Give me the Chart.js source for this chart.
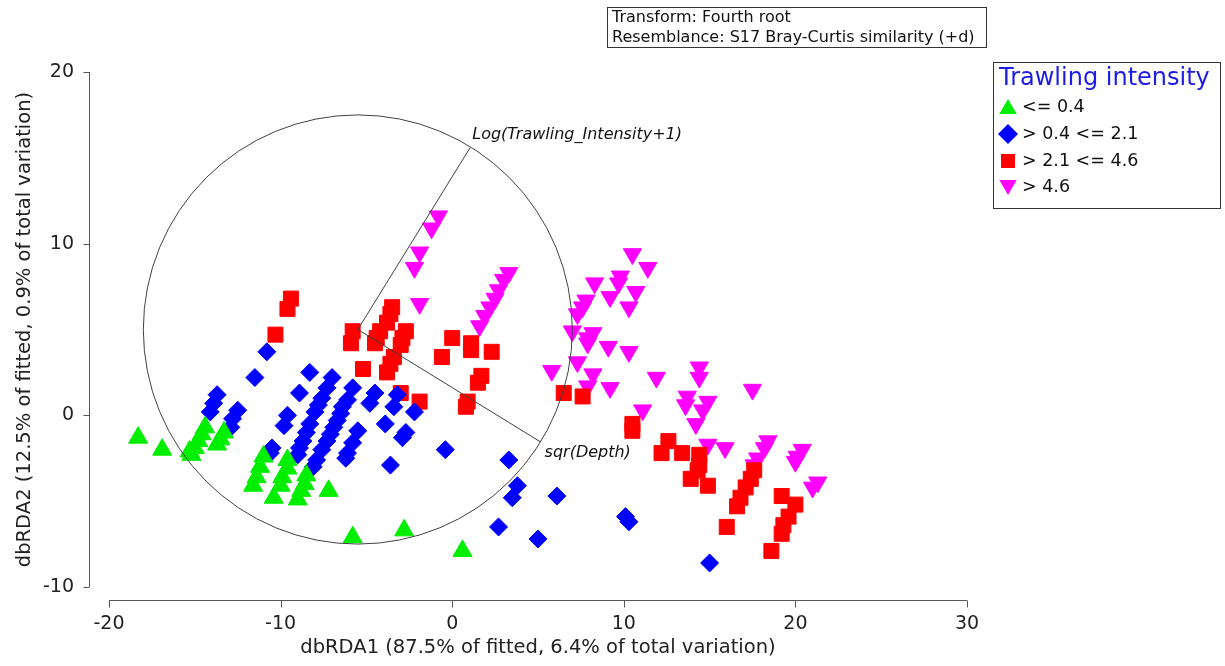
<!DOCTYPE html>
<html>
<head>
<meta charset="utf-8">
<title>dbRDA</title>
<script src="https://cdn.jsdelivr.net/npm/chart.js@4.4.1/dist/chart.umd.min.js"></script>
<style>
  html, body { margin: 0; padding: 0; background: #fff; }
  #wrap { width: 1225px; height: 666px; }
</style>
</head>
<body>
<div id="wrap"><canvas id="rdaChart" width="1225" height="666"></canvas></div>
<script>
// Trawling intensity groups
const groupNames = ['<= 0.4', '> 0.4 <= 2.1', '> 2.1 <= 4.6', '> 4.6'];

// [dbRDA1, dbRDA2]
const lowPts = [
    [-18.3, -1.3], [-16.9, -2.0], [-15.3, -2.1],
    [-14.4, -0.7], [-14.6, -1.1], [-14.8, -1.5], [-15.0, -1.9], [-15.2, -2.3],
    [-13.3, -1.0], [-13.5, -1.4], [-13.7, -1.7],
    [-11.0, -2.4], [-11.2, -3.0], [-11.4, -3.6], [-11.6, -4.1],
    [-9.6, -2.6], [-9.6, -3.1], [-9.9, -3.6], [-10.0, -4.1], [-10.4, -4.8],
    [-8.5, -3.5], [-8.6, -4.0], [-8.8, -4.4], [-9.0, -4.9],
    [-7.2, -4.4], [-5.8, -7.1], [-2.8, -6.7], [0.6, -7.9]
];
const midLowPts = [
    [-10.8, 3.7], [-11.5, 2.2], [-13.7, 1.2], [-13.9, 0.7], [-14.1, 0.2], [-12.5, 0.3], [-12.8, -0.2], [-12.9, -0.7],
    [-8.3, 2.5], [-8.9, 1.3], [-7.0, 2.2], [-7.3, 1.6], [-7.6, 1.0], [-7.8, 0.6], [-8.0, 0.2],
    [-5.8, 1.6], [-6.1, 0.9], [-6.4, 0.5], [-6.5, 0.1], [-6.7, -0.3], [-6.9, -0.7], [-7.1, -1.1], [-7.3, -1.5],
    [-7.6, -2.0], [-7.9, -2.6], [-8.1, -3.0],
    [-9.6, 0.0], [-9.8, -0.6], [-8.3, -0.5], [-8.5, -1.0], [-8.7, -1.5], [-8.9, -1.9], [-9.0, -2.3],
    [-10.5, -1.9], [-10.6, -2.2],
    [-4.5, 1.3], [-4.8, 0.7], [-3.2, 1.2], [-3.4, 0.5], [-2.2, 0.2], [-5.5, -0.9], [-3.9, -0.5], [-2.7, -1.0], [-2.9, -1.3],
    [-5.8, -1.6], [-6.1, -2.2], [-6.2, -2.5], [-3.6, -2.9], [-0.4, -2.0],
    [3.3, -2.6], [3.8, -4.1], [3.5, -4.8], [6.1, -4.7], [2.7, -6.5], [5.0, -7.2],
    [10.3, -6.2], [10.1, -5.9], [15.0, -8.6]
];
const midHighPts = [
    [-9.4, 6.8], [-9.6, 6.2], [-10.3, 4.7],
    [-3.5, 6.3], [-3.6, 5.9], [-3.8, 5.4], [-4.2, 4.9], [-4.4, 4.5], [-4.5, 4.2], [-5.8, 4.9], [-5.9, 4.2],
    [-2.7, 4.9], [-2.9, 4.5], [-3.0, 4.1], [-3.4, 3.4], [-3.6, 3.0], [-3.8, 2.5], [-5.2, 2.7], [-3.0, 1.3], [-1.9, 0.8],
    [0.0, 4.5], [-0.6, 3.4], [1.1, 4.2], [1.1, 3.8], [2.3, 3.7], [1.7, 2.3], [1.5, 1.9], [0.9, 0.8], [0.8, 0.5],
    [6.5, 1.3], [7.6, 1.1], [10.5, -0.5], [10.5, -0.9],
    [12.6, -1.5], [12.2, -2.2], [13.4, -2.2], [14.4, -2.3], [14.4, -2.9], [14.3, -3.2], [13.9, -3.7], [14.9, -4.1],
    [17.6, -3.2], [17.4, -3.7], [17.1, -4.2], [16.8, -4.8], [16.6, -5.3], [16.0, -6.5],
    [19.2, -4.7], [20.0, -5.2], [19.6, -5.9], [19.3, -6.4], [19.2, -6.9], [18.6, -7.9]
];
const highPts = [
    [-0.8, 11.6], [-1.2, 10.9], [-1.9, 9.5], [-2.2, 8.6], [-1.9, 6.5],
    [3.3, 8.3], [3.0, 7.9], [2.7, 7.3], [2.5, 6.8], [2.2, 6.3], [1.9, 5.8], [1.6, 5.2],
    [10.5, 9.4], [11.4, 8.6], [9.8, 8.1], [9.7, 7.7], [8.3, 7.7], [10.7, 7.2], [9.2, 6.9], [10.3, 6.3],
    [7.8, 6.7], [7.6, 6.3], [7.3, 5.9],
    [7.0, 4.9], [8.2, 4.8], [7.9, 4.5], [7.9, 4.2], [9.1, 4.0], [10.3, 3.7], [7.3, 3.1], [5.8, 2.6],
    [8.2, 2.4], [7.9, 1.7], [9.2, 1.6],
    [11.9, 2.2], [14.4, 2.8], [14.4, 2.2], [17.5, 1.5], [11.1, 0.3], [13.7, 1.1], [13.6, 0.6], [14.9, 0.8],
    [14.6, 0.3], [14.2, -0.5],
    [14.9, -1.7], [15.9, -1.9], [18.4, -1.5], [18.2, -1.9], [17.8, -2.5], [17.6, -2.9],
    [20.4, -2.0], [20.1, -2.4], [20.0, -2.7], [21.3, -3.9], [21.0, -4.2]
];

// vector overlay (correlation circle)
const circleCentre = [-5.5, 5.0];
const circleRadius = 12.5;
const vectorNames = ['Log(Trawling_Intensity+1)', 'sqr(Depth)'];
const vectorEnds = [[1.05, 15.6], [5.15, -1.55]];

const xTicks = [-20, -10, 0, 10, 20, 30];
const yTicks = [-10, 0, 10, 20];

const FONT = '"DejaVu Sans", "Liberation Sans", sans-serif';
const colors = ['#00ee00', '#0000ff', '#ff0000', '#ff00ff'];

const toXY = arr => arr.map(p => ({ x: p[0], y: p[1] }));

// Offset axis lines, like PRIMER draws them
const axisLines = {
    id: 'axisLines',
    afterDraw(chart) {
        const { ctx, chartArea, scales: { x, y } } = chart;
        const yAxisX = chartArea.left - 20 + 0.5;
        const xAxisY = chartArea.bottom + 13 + 0.5;
        ctx.save();
        ctx.strokeStyle = '#555';
        ctx.lineWidth = 1;
        ctx.beginPath();
        ctx.moveTo(yAxisX, y.getPixelForValue(yTicks[yTicks.length - 1]));
        ctx.lineTo(yAxisX, y.getPixelForValue(yTicks[0]));
        yTicks.forEach(v => {
            const py = Math.round(y.getPixelForValue(v)) + 0.5;
            ctx.moveTo(yAxisX, py);
            ctx.lineTo(yAxisX - 6, py);
        });
        ctx.moveTo(x.getPixelForValue(xTicks[0]), xAxisY);
        ctx.lineTo(x.getPixelForValue(xTicks[xTicks.length - 1]), xAxisY);
        xTicks.forEach(v => {
            const px = Math.round(x.getPixelForValue(v)) + 0.5;
            ctx.moveTo(px, xAxisY);
            ctx.lineTo(px, xAxisY + 7);
        });
        ctx.stroke();
        ctx.restore();
    }
};

// circle + environmental vectors
const vectorOverlay = {
    id: 'vectorOverlay',
    afterDatasetsDraw(chart) {
        const { ctx, scales: { x, y } } = chart;
        const cx = x.getPixelForValue(circleCentre[0]);
        const cy = y.getPixelForValue(circleCentre[1]);
        const rx = x.getPixelForValue(circleCentre[0] + circleRadius) - cx;
        const ry = cy - y.getPixelForValue(circleCentre[1] + circleRadius);
        ctx.save();
        ctx.strokeStyle = '#404040';
        ctx.lineWidth = 1;
        ctx.beginPath();
        ctx.ellipse(cx, cy, rx, ry, 0, 0, Math.PI * 2);
        ctx.stroke();
        const labelOffsets = [[2, -13], [4, 11]];
        ctx.font = 'italic 16px ' + FONT;
        ctx.fillStyle = '#111';
        ctx.textBaseline = 'middle';
        vectorEnds.forEach((v, i) => {
            const ex = x.getPixelForValue(v[0]);
            const ey = y.getPixelForValue(v[1]);
            ctx.beginPath();
            ctx.moveTo(cx, cy);
            ctx.lineTo(ex, ey);
            ctx.stroke();
            ctx.fillText(vectorNames[i], ex + labelOffsets[i][0], ey + labelOffsets[i][1]);
        });
        ctx.restore();
    }
};

function drawMarker(ctx, kind, cx, cy, r) {
    ctx.beginPath();
    if (kind === 'up') {
        ctx.moveTo(cx, cy - r);
        ctx.lineTo(cx + r * 0.866, cy + r * 0.5);
        ctx.lineTo(cx - r * 0.866, cy + r * 0.5);
    } else if (kind === 'down') {
        ctx.moveTo(cx, cy + r);
        ctx.lineTo(cx + r * 0.866, cy - r * 0.5);
        ctx.lineTo(cx - r * 0.866, cy - r * 0.5);
    } else if (kind === 'diamond') {
        ctx.moveTo(cx, cy - r);
        ctx.lineTo(cx + r, cy);
        ctx.lineTo(cx, cy + r);
        ctx.lineTo(cx - r, cy);
    } else {
        ctx.rect(cx - r * 0.7, cy - r * 0.7, r * 1.4, r * 1.4);
    }
    ctx.closePath();
    ctx.fill();
}

// header box + legend box
const annotations = {
    id: 'annotations',
    afterDraw(chart) {
        const ctx = chart.ctx;
        ctx.save();
        ctx.strokeStyle = '#333';
        ctx.lineWidth = 1;
        ctx.strokeRect(607.5, 7.5, 379, 40);
        ctx.fillStyle = '#111';
        ctx.font = '16px ' + FONT;
        ctx.textBaseline = 'middle';
        ctx.fillText('Transform: Fourth root', 612, 18);
        ctx.fillText('Resemblance: S17 Bray-Curtis similarity (+d)', 612, 38);

        ctx.strokeRect(993.5, 62.5, 227, 146);
        ctx.fillStyle = '#1c1ce6';
        ctx.font = '24px ' + FONT;
        ctx.fillText('Trawling intensity', 999, 79);
        const kinds = ['up', 'diamond', 'square', 'down'];
        const rowY = [107, 134, 161, 187];
        ctx.font = '17.5px ' + FONT;
        groupNames.forEach((name, i) => {
            ctx.fillStyle = colors[i];
            drawMarker(ctx, kinds[i], 1008, rowY[i] + (kinds[i] === 'up' ? 2 : kinds[i] === 'down' ? -2 : 0), 10);
            ctx.fillStyle = '#111';
            ctx.fillText(name, 1022, rowY[i]);
        });
        ctx.restore();
    }
};

const pointStyles = [
    { pointStyle: 'triangle', radius: 11, rotation: 0 },
    { pointStyle: 'rectRot', radius: 9, rotation: 0 },
    { pointStyle: 'rect', radius: 10.6, rotation: 0 },
    { pointStyle: 'triangle', radius: 10.5, rotation: 180 }
];

const allSeries = [lowPts, midLowPts, midHighPts, highPts];

const datasets = allSeries.map((pts, i) => ({
    label: groupNames[i],
    data: toXY(pts),
    pointStyle: pointStyles[i].pointStyle,
    pointRadius: pointStyles[i].radius,
    pointRotation: pointStyles[i].rotation,
    backgroundColor: colors[i],
    borderColor: colors[i],
    borderWidth: 1
}));

const rdaConfig = {
    type: 'scatter',
    data: { datasets: datasets },
    options: {
        responsive: false,
        animation: false,
        events: [],
        devicePixelRatio: 1,
        layout: { padding: { top: 72, right: 258, left: 0, bottom: 0 } },
        plugins: {
            legend: { display: false },
            tooltip: { enabled: false }
        },
        scales: {
            x: {
                type: 'linear',
                min: -20,
                max: 30,
                afterBuildTicks: s => { s.ticks = xTicks.map(v => ({ value: v })); },
                afterFit: s => { s.height = 79; },
                grid: { display: false },
                border: { display: false },
                ticks: { padding: 18, color: '#222', maxRotation: 0, font: { family: FONT, size: 19 } },
                title: {
                    display: true,
                    text: 'dbRDA1 (87.5% of fitted, 6.4% of total variation)',
                    color: '#222',
                    font: { family: FONT, size: 19.5 },
                    padding: { top: 0, bottom: 6 }
                }
            },
            y: {
                type: 'linear',
                min: -10,
                max: 20,
                afterBuildTicks: s => { s.ticks = yTicks.map(v => ({ value: v })); },
                afterFit: s => { s.width = 109; },
                grid: { display: false },
                border: { display: false },
                ticks: { padding: 27, color: '#222', font: { family: FONT, size: 19 } },
                title: {
                    display: true,
                    text: 'dbRDA2 (12.5% of fitted, 0.9% of total variation)',
                    color: '#222',
                    font: { family: FONT, size: 19.5 },
                    padding: { top: 13, bottom: 0 }
                }
            }
        }
    },
    plugins: [axisLines, vectorOverlay, annotations]
};

const rdaChart = new Chart(document.getElementById('rdaChart'), rdaConfig);
</script>
</body>
</html>
